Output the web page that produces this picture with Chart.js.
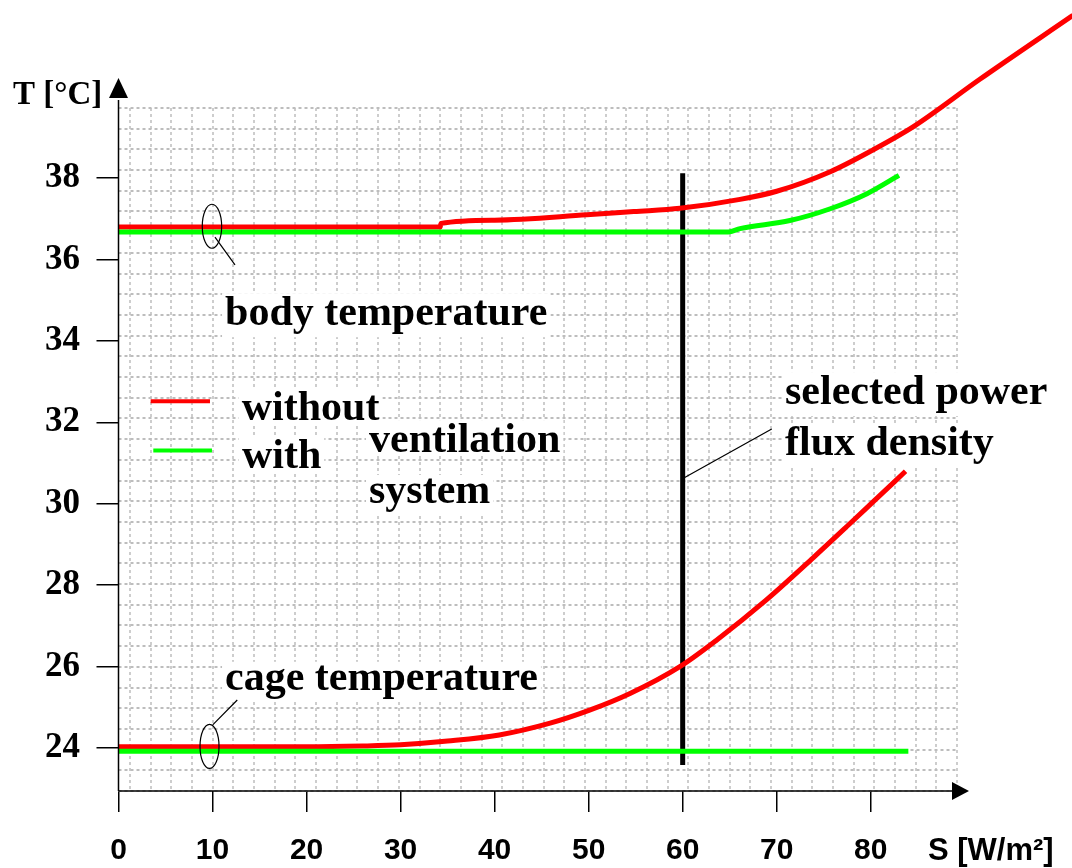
<!DOCTYPE html>
<html>
<head>
<meta charset="utf-8">
<script src="https://cdn.jsdelivr.net/npm/chart.js@4.4.0/dist/chart.umd.min.js"></script>
<style>
html, body { margin: 0; padding: 0; background: #fff; }
#wrap { width: 1072px; height: 868px; }
</style>
</head>
<body>
<div id="wrap"><canvas id="grafico" width="1072" height="868"></canvas></div>
<script>
// Ticks
const xTicks = [0, 10, 20, 30, 40, 50, 60, 70, 80];
const yTicks = [24, 26, 28, 30, 32, 34, 36, 38];

// Body temperature, without ventilation
const sBodyWithout = [0, 34.2, 34.3, 40, 49.8, 54.8, 59.7, 66.1, 70, 75.7, 80.2, 84.5, 91.6, 101.5];
const tBodyWithout = [36.80, 36.80, 36.89, 36.97, 37.10, 37.18, 37.26, 37.48, 37.68, 38.16, 38.69, 39.26, 40.43, 42.0];

// Body temperature, with ventilation
const sBodyWith = [0, 64.85, 66.1, 71.4, 75.7, 79.6, 83.0];
const tBodyWith = [36.68, 36.68, 36.76, 36.96, 37.25, 37.62, 38.07];

// Cage temperature, without ventilation
const sCageWithout = [0, 20, 26, 30, 35, 40.5, 45.9, 50.1, 54.4, 59.7, 63.6, 68.9, 73.9, 77.4, 80.3, 83.7];
const tCageWithout = [24.03, 24.03, 24.05, 24.08, 24.17, 24.32, 24.61, 24.93, 25.34, 26.0, 26.65, 27.64, 28.68, 29.43, 30.06, 30.8];

// Cage temperature, with ventilation
const sCageWith = [0, 84.0];
const tCageWith = [23.92, 23.92];

// Selected power flux density
const sSelected = [60, 60];
const tSelected = [38.12, 23.58];

const pontos = (xs, ys) => xs.map((x, i) => ({ x, y: ys[i] }));

function linha(label, xs, ys, cor, extra) {
  return Object.assign({
    label,
    data: pontos(xs, ys),
    borderColor: cor,
    backgroundColor: cor,
    borderWidth: 5,
    pointRadius: 0,
    fill: false,
    clip: false,
    borderCapStyle: 'butt',
    cubicInterpolationMode: 'monotone'
  }, extra || {});
}

// Annotations (text in data coordinates)
const rotulos = [
  { texto: 'body temperature', s: 11.33, t: 34.39 },
  { texto: 'cage temperature', s: 11.33, t: 25.43 },
  { texto: 'without', s: 13.1, t: 32.06 },
  { texto: 'with', s: 13.13, t: 30.88 },
  { texto: 'ventilation', s: 26.64, t: 31.27 },
  { texto: 'system', s: 26.64, t: 30.02 },
  { texto: 'selected power', s: 70.88, t: 32.45 },
  { texto: 'flux density', s: 70.88, t: 31.2 }
];
const fonteTexto = 'bold 42px "Liberation Serif", "Times New Roman", serif';

// x range set after data limits, so points beyond the right edge are still drawn
const X_MIN = 0, X_MAX = 89.28;

const anotacoes = {
  id: 'anotacoes',
  beforeDatasetsDraw(chart) {
    const { ctx } = chart;
    const x = chart.scales.x, y = chart.scales.y;
    ctx.save();
    ctx.font = fonteTexto;
    ctx.fillStyle = '#fff';
    rotulos.forEach(r => {
      const px = x.getPixelForValue(r.s), py = y.getPixelForValue(r.t);
      const m = ctx.measureText(r.texto);
      ctx.fillRect(px - 3, py - m.actualBoundingBoxAscent - 3, m.width + 6,
        m.actualBoundingBoxAscent + m.actualBoundingBoxDescent + 6);
    });
    ctx.restore();
  },
  afterDatasetsDraw(chart) {
    const { ctx, chartArea } = chart;
    const x = chart.scales.x, y = chart.scales.y;
    const px = v => x.getPixelForValue(v), py = v => y.getPixelForValue(v);
    ctx.save();

    // texts
    ctx.font = fonteTexto;
    ctx.fillStyle = '#000';
    ctx.textBaseline = 'alphabetic';
    ctx.textAlign = 'left';
    rotulos.forEach(r => ctx.fillText(r.texto, px(r.s), py(r.t)));

    // legend samples
    ctx.lineWidth = 4;
    ctx.strokeStyle = '#ff0000';
    ctx.beginPath(); ctx.moveTo(px(3.42), py(32.52)); ctx.lineTo(px(9.73), py(32.52)); ctx.stroke();
    ctx.strokeStyle = '#00ff00';
    ctx.beginPath(); ctx.moveTo(px(3.7), py(31.31)); ctx.lineTo(px(9.94), py(31.31)); ctx.stroke();

    // ellipses and leader lines
    ctx.strokeStyle = '#000';
    ctx.lineWidth = 1.2;
    ctx.beginPath(); ctx.ellipse(px(9.94), py(36.82), 9.7, 22, 0, 0, Math.PI * 2); ctx.stroke();
    ctx.beginPath(); ctx.ellipse(px(9.68), py(24.04), 9.5, 22, 0, 0, Math.PI * 2); ctx.stroke();
    ctx.beginPath();
    ctx.moveTo(px(10.26), py(36.55)); ctx.lineTo(px(12.39), py(35.87));
    ctx.moveTo(px(10.02), py(24.57)); ctx.lineTo(px(12.63), py(25.18));
    ctx.moveTo(px(60.07), py(30.63)); ctx.lineTo(px(69.47), py(31.84));
    ctx.stroke();

    // axes with arrows
    const x0 = px(0), yb = chartArea.bottom;
    ctx.lineWidth = 1.5;
    ctx.beginPath();
    ctx.moveTo(x0, yb); ctx.lineTo(chartArea.right - 4, yb);
    ctx.moveTo(x0, yb); ctx.lineTo(x0, chartArea.top - 8);
    ctx.stroke();
    ctx.fillStyle = '#000';
    ctx.beginPath();
    ctx.moveTo(chartArea.right + 11, yb);
    ctx.lineTo(chartArea.right - 6, yb - 9);
    ctx.lineTo(chartArea.right - 6, yb + 9);
    ctx.closePath(); ctx.fill();
    ctx.beginPath();
    ctx.moveTo(x0, chartArea.top - 30);
    ctx.lineTo(x0 - 9.5, chartArea.top - 10);
    ctx.lineTo(x0 + 9.5, chartArea.top - 10);
    ctx.closePath(); ctx.fill();

    // axis titles
    ctx.font = 'bold 33px "Liberation Serif", "Times New Roman", serif';
    ctx.fillText('T [°C]', 13, 103.5);
    ctx.font = 'bold 31px "Liberation Sans", Arial, sans-serif';
    ctx.fillText('S [W/m²]', 928, 860);
    ctx.restore();
  }
};

const ctx = document.getElementById('grafico').getContext('2d');
new Chart(ctx, {
  type: 'line',
  data: {
    datasets: [
      linha('cage with', sCageWith, tCageWith, '#00ff00'),
      linha('cage without', sCageWithout, tCageWithout, '#ff0000'),
      linha('body with', sBodyWith, tBodyWith, '#00ff00'),
      linha('body without', sBodyWithout, tBodyWithout, '#ff0000'),
      linha('selected', sSelected, tSelected, '#000000', { cubicInterpolationMode: 'default', tension: 0 })
    ]
  },
  options: {
    responsive: false,
    devicePixelRatio: 1,
    animation: false,
    events: [],
    layout: { padding: { top: 108, right: 114, bottom: 0, left: 0 } },
    plugins: {
      legend: { display: false },
      title: { display: false },
      tooltip: { enabled: false }
    },
    scales: {
      x: {
        type: 'linear',
        position: 'bottom',
        bounds: 'data',
        afterDataLimits: s => { s.min = X_MIN; s.max = X_MAX; },
        afterBuildTicks: s => { s.min = X_MIN; s.max = X_MAX; s.ticks = xTicks.map(v => ({ value: v })); },
        afterFit: s => { s.height = 77; },
        ticks: {
          color: '#000',
          padding: 21,
          maxRotation: 0,
          autoSkip: false,
          font: { family: 'Liberation Sans', size: 30, weight: 'bold' }
        },
        grid: { drawOnChartArea: false, drawTicks: true, tickLength: 21, color: '#000', lineWidth: 1.5 },
        border: { display: false }
      },
      y: {
        type: 'linear',
        position: 'left',
        min: 22.944,
        max: 39.725,
        afterBuildTicks: s => { s.ticks = yTicks.map(v => ({ value: v })); },
        afterFit: s => { s.width = 118.5; },
        ticks: {
          color: '#000',
          padding: 16.5,
          autoSkip: false,
          font: { family: 'Liberation Serif', size: 35, weight: 'bold' }
        },
        grid: { drawOnChartArea: false, drawTicks: true, tickLength: 22, color: '#000', lineWidth: 1.5 },
        border: { display: false }
      },
      gx: {
        type: 'linear',
        position: 'top',
        min: -0.556,
        max: 40.04,
        afterBuildTicks: s => { s.ticks = Array.from({ length: 41 }, (_, k) => ({ value: k })); },
        afterFit: s => { s.height = 0; },
        ticks: { display: false },
        grid: { drawTicks: false, color: '#cdcdcd', lineWidth: 2 },
        border: { display: false, dash: [3, 3] }
      },
      gy: {
        type: 'linear',
        position: 'right',
        min: 0,
        max: 33,
        afterBuildTicks: s => { s.ticks = Array.from({ length: 34 }, (_, k) => ({ value: k })); },
        afterFit: s => { s.width = 0; },
        ticks: { display: false },
        grid: { drawTicks: false, color: '#bdbdbd', lineWidth: 2 },
        border: { display: false, dash: [3, 3] }
      }
    }
  },
  plugins: [anotacoes]
});
</script>
</body>
</html>
